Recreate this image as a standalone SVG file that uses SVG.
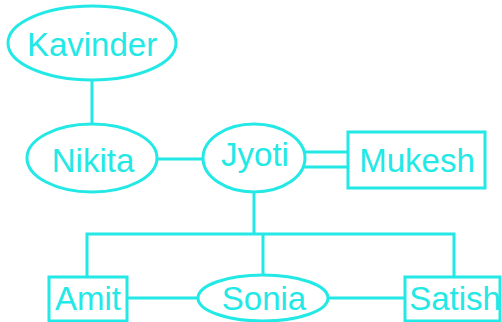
<svg xmlns="http://www.w3.org/2000/svg" width="502" height="322" viewBox="0 0 502 322">
<style>
.s{fill:#fff;stroke:#22e8e6;stroke-width:3}
.c{fill:none;stroke:#22e8e6;stroke-width:3}
text{font-family:"Liberation Sans",Arial,sans-serif;font-size:33px;fill:#22e8e6;text-anchor:middle}
</style>
<rect width="502" height="322" fill="#fff"/>
<g id="connectors">
<line class="c" x1="92" y1="80" x2="92" y2="124"/>
<line class="c" x1="157" y1="159" x2="203" y2="159"/>
<line class="c" x1="302" y1="152" x2="348" y2="152"/>
<line class="c" x1="302" y1="167" x2="348" y2="167"/>
<polyline class="c" points="254,192 254,234"/>
<polyline class="c" points="87,277 87,234 454,234 454,277"/>
<line class="c" x1="263" y1="234" x2="263" y2="275"/>
<line class="c" x1="127" y1="298" x2="197" y2="298"/>
<line class="c" x1="328" y1="298" x2="405" y2="298"/>
</g>
<g id="kavinder"><ellipse class="s" cx="92" cy="43" rx="84" ry="37"/><text x="92" y="56">Kavinder</text></g>
<g id="nikita"><ellipse class="s" cx="92" cy="158" rx="65" ry="34"/><text x="93" y="172">Nikita</text></g>
<g id="jyoti"><ellipse class="s" cx="254" cy="158" rx="51" ry="34"/><text x="255" y="166">Jyoti</text></g>
<g id="mukesh"><rect class="s" x="348" y="132" width="137" height="56"/><text x="417" y="172">Mukesh</text></g>
<g id="amit"><rect class="s" x="49" y="277" width="78" height="44"/><text x="88" y="310">Amit</text></g>
<g id="sonia"><ellipse class="s" cx="263" cy="298" rx="65" ry="23"/><text x="264" y="310">Sonia</text></g>
<g id="satish"><rect class="s" x="405" y="277" width="95" height="44"/><text x="455" y="310">Satish</text></g>
</svg>
